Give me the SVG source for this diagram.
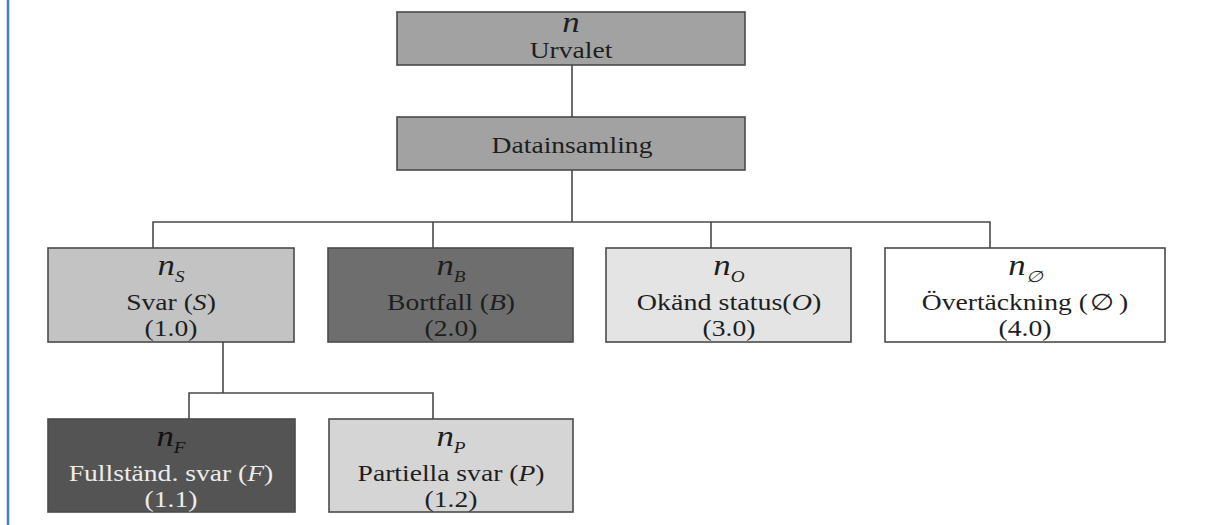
<svg xmlns="http://www.w3.org/2000/svg" width="1217" height="525" viewBox="0 0 1217 525">
<style>
.box{stroke:#4a4a4a;stroke-width:1.6}
.lbl{font-family:"Liberation Serif","DejaVu Serif",serif;font-size:23px;fill:#1e1e1e;text-anchor:middle}
.nv{font-family:"Liberation Serif","DejaVu Serif",serif;font-style:italic;font-size:29px;fill:#1e1e1e;text-anchor:middle}
.sub{font-size:16px}
.it{font-style:italic}
.light{fill:#ececec}
.conn{stroke:#4a4a4a;stroke-width:1.6;fill:none}
</style>
<rect x="0" y="0" width="1217" height="525" fill="#ffffff"/>
<line x1="8" y1="0" x2="8" y2="525" stroke="#4a7dc4" stroke-width="2.5"/>
<g id="connectors">
<path class="conn" d="M572 65V117M572 170V222M153 248V222H990V248M433 222V248M711 222V248M223 342V393M189 419V393H433V419"/>
</g>
<g id="urvalet">
<rect class="box" x="397" y="12" width="348" height="53" fill="#a2a2a2"/>
<text class="nv" transform="translate(571,32) scale(1.2,1)">n</text>
<text class="lbl" transform="translate(571,58) scale(1.2,1)">Urvalet</text>
</g>
<g id="datainsamling">
<rect class="box" x="397" y="117" width="348" height="53" fill="#a2a2a2"/>
<text class="lbl" transform="translate(572,153) scale(1.2,1)">Datainsamling</text>
</g>
<g id="svar">
<rect class="box" x="48" y="248" width="246" height="94" fill="#c3c3c3"/>
<text class="nv" transform="translate(171,275) scale(1.2,1)">n<tspan class="sub" dy="7">S</tspan></text>
<text class="lbl" transform="translate(171,310) scale(1.2,1)">Svar (<tspan class="it">S</tspan>)</text>
<text class="lbl" transform="translate(171,336) scale(1.2,1)">(1.0)</text>
</g>
<g id="bortfall">
<rect class="box" x="328" y="248" width="245" height="94" fill="#6e6e6e"/>
<text class="nv" transform="translate(451,275) scale(1.2,1)">n<tspan class="sub" dy="7">B</tspan></text>
<text class="lbl" transform="translate(451,310) scale(1.2,1)">Bortfall (<tspan class="it">B</tspan>)</text>
<text class="lbl" transform="translate(451,336) scale(1.2,1)">(2.0)</text>
</g>
<g id="okand">
<rect class="box" x="606" y="248" width="245" height="94" fill="#e4e4e4"/>
<text class="nv" transform="translate(729,275) scale(1.2,1)">n<tspan class="sub" dy="7">O</tspan></text>
<text class="lbl" transform="translate(729,310) scale(1.22,1)">Okänd status(<tspan class="it">O</tspan>)</text>
<text class="lbl" transform="translate(729,336) scale(1.2,1)">(3.0)</text>
</g>
<g id="overtackning">
<rect class="box" x="885" y="248" width="280" height="94" fill="#ffffff"/>
<text class="nv" transform="translate(1025,275) scale(1.2,1)">n<tspan class="sub" dy="7">∅</tspan></text>
<text class="lbl" transform="translate(1025,310) scale(1.2,1)">Övertäckning (<tspan dx="2">∅</tspan><tspan dx="4">)</tspan></text>
<text class="lbl" transform="translate(1025,336) scale(1.2,1)">(4.0)</text>
</g>
<g id="fullstandiga">
<rect class="box" x="48" y="419" width="247" height="93" fill="#545454"/>
<text class="nv" transform="translate(171,446) scale(1.2,1)" style="fill:#111111">n<tspan class="sub" dy="7">F</tspan></text>
<text class="lbl light" transform="translate(171,481) scale(1.2,1)">Fullständ. svar (<tspan class="it">F</tspan>)</text>
<text class="lbl light" transform="translate(171,507) scale(1.2,1)">(1.1)</text>
</g>
<g id="partiella">
<rect class="box" x="329" y="419" width="244" height="93" fill="#d5d5d5"/>
<text class="nv" transform="translate(451,446) scale(1.2,1)">n<tspan class="sub" dy="7">P</tspan></text>
<text class="lbl" transform="translate(451,481) scale(1.2,1)">Partiella svar (<tspan class="it">P</tspan>)</text>
<text class="lbl" transform="translate(451,507) scale(1.2,1)">(1.2)</text>
</g>
</svg>
